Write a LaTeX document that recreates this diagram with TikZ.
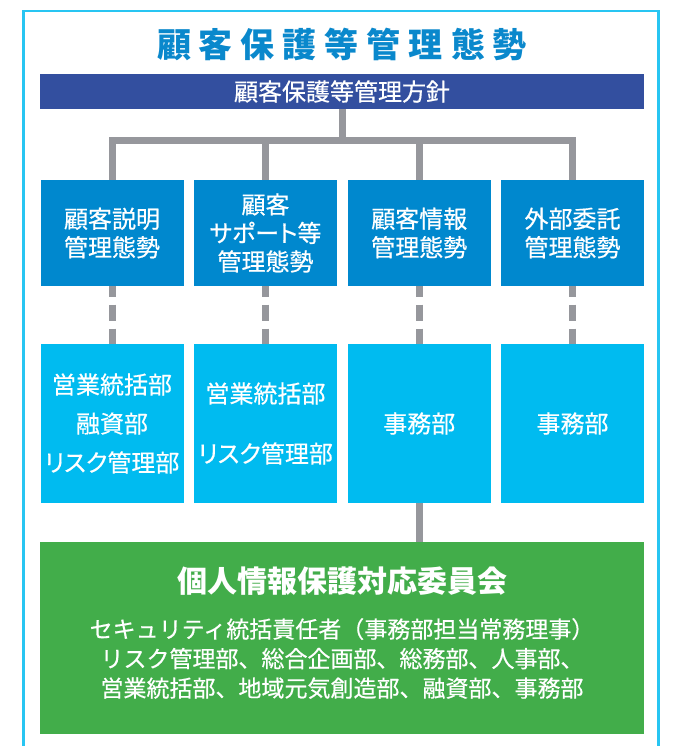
\documentclass[tikz,border=0pt]{standalone}
\usepackage{fontspec}
\setmainfont{Noto Sans CJK JP}
\newfontfamily\medf{Noto Sans CJK JP}[FakeBold=0.5]
\newfontfamily\medp{Noto Sans CJK JP}[FakeBold=0.5,RawFeature=+palt]
\definecolor{framec}{RGB}{40,197,242}
\definecolor{titlec}{RGB}{10,136,204}
\definecolor{planc}{RGB}{51,79,159}
\definecolor{midc}{RGB}{0,136,206}
\definecolor{lowc}{RGB}{0,187,240}
\definecolor{greenc}{RGB}{66,173,74}
\definecolor{linegray}{RGB}{150,151,156}
\newcommand{\tsp}{\hspace{8pt}}
\begin{document}
\begin{tikzpicture}[x=1pt,y=-1pt,
  conn/.style={draw=linegray,line width=7pt},
  dconn/.style={conn,dash pattern=on 16.5pt off 7.5pt,dash phase=5.5pt},
  boxbase/.style={draw=none,inner sep=0pt,align=center,text=white},
  midbox/.style={boxbase,fill=midc,minimum width=143pt,minimum height=106pt,
    font=\medp\fontsize{24}{28.5}\selectfont},
  lowbox/.style={boxbase,fill=lowc,minimum width=143pt,minimum height=159pt,
    font=\medp\fontsize{24}{39}\selectfont},
  txt/.style={inner sep=0pt,align=center,text=white}]
\useasboundingbox (0,0) rectangle (697,746);
\fill[white] (0,0) rectangle (697,746);
% outer frame
\draw[framec,line width=2.5pt] (23.5,760) -- (23.5,11) -- (658.5,11) -- (658.5,760);
% title
\node[inner sep=0pt,text=titlec,font=\fontsize{34}{34}\bfseries\selectfont] (title) at (342,44)
  {顧\tsp 客\tsp 保\tsp 護\tsp 等\tsp 管\tsp 理\tsp 態\tsp 勢};
% policy banner
\node[boxbase,fill=planc,minimum width=604pt,minimum height=35pt,
  font=\medf\fontsize{24}{24}\selectfont] (plan) at (342,91.5) {顧客保護等管理方針};
% middle boxes
\node[midbox] (m1) at (112,233) {顧客説明\\管理態勢};
\node[midbox] (m2) at (265.5,233) {顧客\\サポート等\\管理態勢};
\node[midbox] (m3) at (419.25,233) {顧客情報\\管理態勢};
\node[midbox] (m4) at (572.5,233) {外部委託\\管理態勢};
% lower boxes
\node[lowbox] (l1) at (112,423.5) {営業統括部\\融資部\\リスク管理部};
\node[lowbox,font=\medp\fontsize{24}{60}\selectfont] (l2) at (265.5,423.5) {営業統括部\\リスク管理部};
\node[lowbox] (l3) at (419.25,423.5) {事務部};
\node[lowbox] (l4) at (572.5,423.5) {事務部};
% committee
\node[boxbase,fill=greenc,minimum width=604pt,minimum height=191.5pt] (cmte) at (342,637.75) {};
\node[txt,font=\fontsize{30}{30}\bfseries\selectfont] (cmtitle) at (342,581) {個人情報保護対応委員会};
\node[txt,font=\medf\fontsize{23}{29.5}\selectfont] (cmbody) at (342,658.5)
  {セキュリティ統括責任者（事務部担当常務理事）\\リスク管理部、総合企画部、総務部、人事部、\\営業統括部、地域元気創造部、融資部、事務部};
% tree connectors
\coordinate (j) at (342,141);
\draw[conn] (plan.south) -- (j);
\draw[conn] (m1.north) -- (m1.north |- j) -- (m4.north |- j) -- (m4.north);
\draw[conn] (m2.north |- j) -- (m2.north);
\draw[conn] (m3.north |- j) -- (m3.north);
% dashed connectors
\draw[dconn] (m1.south) -- (l1.north);
\draw[dconn] (m2.south) -- (l2.north);
\draw[dconn] (m3.south) -- (l3.north);
\draw[dconn] (m4.south) -- (l4.north);
% to committee
\draw[conn] (l3.south) -- (cmte.north -| l3.south);
\end{tikzpicture}
\end{document}
